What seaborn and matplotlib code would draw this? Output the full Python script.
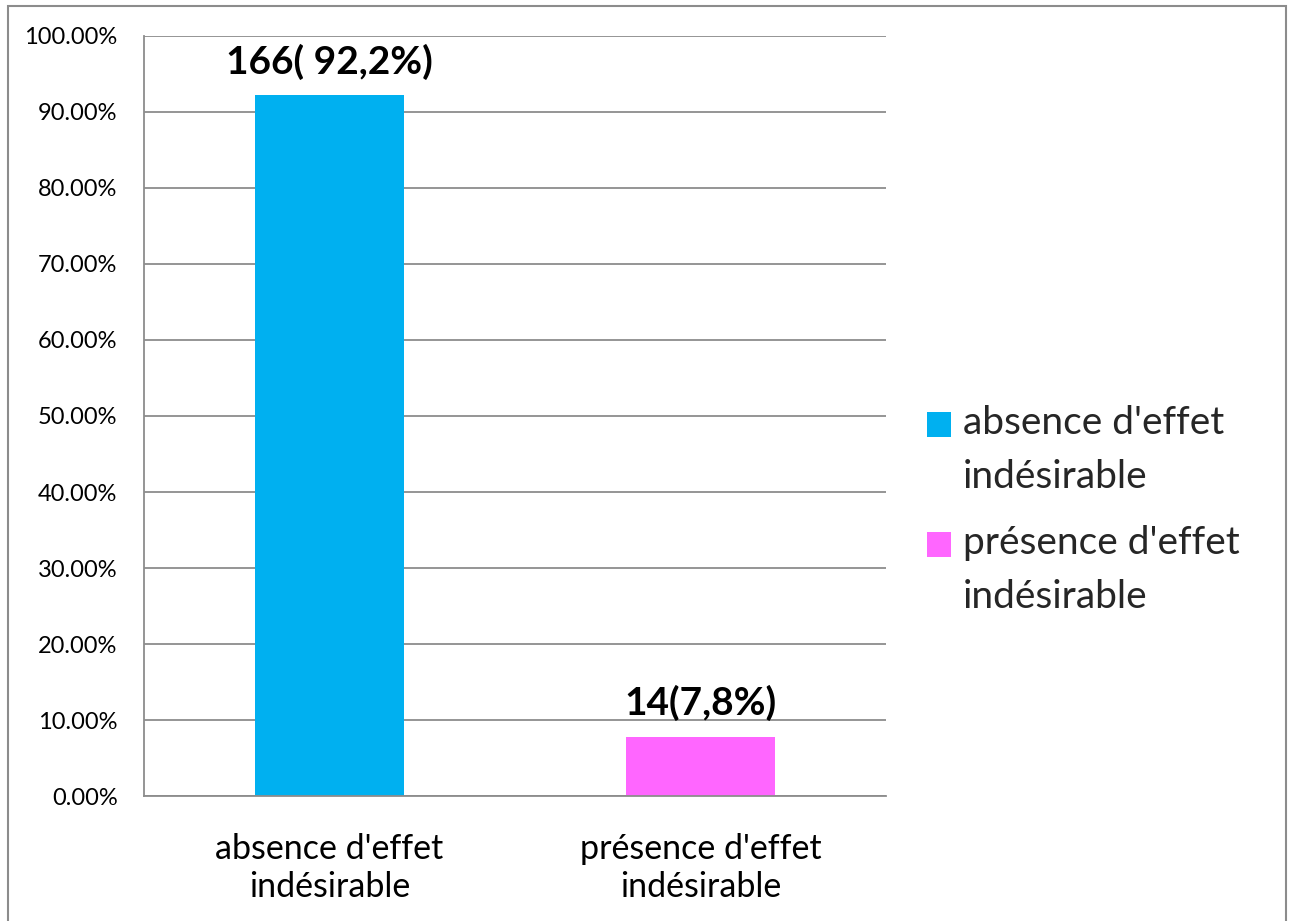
import matplotlib
matplotlib.use("Agg")
import matplotlib.pyplot as plt
from matplotlib.patches import Rectangle, Patch
from matplotlib.legend_handler import HandlerPatch
from matplotlib.ticker import FuncFormatter, MultipleLocator
import seaborn as sns
import pandas as pd

categories = ["absence d'effet\nindésirable", "présence d'effet\nindésirable"]
shares = [0.922, 0.078]
counts = [166, 14]
bar_labels = ["166( 92,2%)", "14(7,8%)"]
colors = ["#00B0F0", "#FF66FF"]

sns.set_theme(style="white")
plt.rcParams["font.family"] = ["Lato", "DejaVu Sans"]

df = pd.DataFrame({"categorie": categories, "part": shares})

fig = plt.figure(figsize=(12.9, 9.21), dpi=100)
ax = fig.add_axes([144 / 1290, 1 - 796 / 921, (886 - 144) / 1290, (796 - 36) / 921])

sns.barplot(data=df, x="categorie", y="part", hue="categorie",
            palette=colors, width=0.40, legend=False, ax=ax, saturation=1,
            linewidth=0)

ax.set_ylim(0, 1)
ax.yaxis.set_major_locator(MultipleLocator(0.1))
ax.yaxis.set_major_formatter(FuncFormatter(lambda v, _: f"{v * 100:.2f}%"))
ax.grid(axis="y", color="#8c8c8c", linewidth=1.3)
ax.set_axisbelow(True)
for side in ("top", "right"):
    ax.spines[side].set_visible(False)
for side in ("left", "bottom"):
    ax.spines[side].set_color("#8c8c8c")
    ax.spines[side].set_linewidth(1.3)
ax.tick_params(axis="y", length=0, pad=19, labelsize=17, labelcolor="black")
ax.tick_params(axis="x", length=0, pad=26.5, labelsize=24.5, labelcolor="black")
for t in ax.get_xticklabels():
    t.set_linespacing(1.23)
ax.set_xlabel("")
ax.set_ylabel("")

for cont in ax.containers:
    for bar in cont:
        xc = bar.get_x() + bar.get_width() / 2
        idx = int(round(xc))
        ax.annotate(bar_labels[idx], (xc, bar.get_height()),
                    xytext=(0, 11), textcoords="offset points", ha="center", va="bottom",
                    fontsize=28, fontweight="bold", color="black")


class TopSquare(HandlerPatch):
    """Legend square aligned with the first line of a two-line label."""

    def create_artists(self, legend, orig_handle, xdescent, ydescent,
                       width, height, fontsize, trans):
        sq = Rectangle((-xdescent, -ydescent + 0.68 * fontsize), width, height,
                       facecolor=orig_handle.get_facecolor(), edgecolor="none",
                       transform=trans)
        return [sq]


handles = [Patch(facecolor=c, edgecolor="none") for c in colors]
leg = fig.legend(handles, categories, loc="center left",
                 bbox_to_anchor=(911 / 1290, 1 - 510 / 921), frameon=False,
                 fontsize=28, handlelength=0.62, handleheight=0.62,
                 handletextpad=0.32, labelspacing=0.78, borderaxespad=0,
                 handler_map={Patch: TopSquare()})
for t in leg.get_texts():
    t.set_linespacing(1.62)

fig.patches.append(Rectangle((8 / 1290, -0.01), (1286 - 8) / 1290, 1 - 6 / 921 + 0.01,
                             transform=fig.transFigure, fill=False,
                             edgecolor="#8c8c8c", linewidth=1.5))

fig.savefig("out.png", dpi=100, facecolor="white")
